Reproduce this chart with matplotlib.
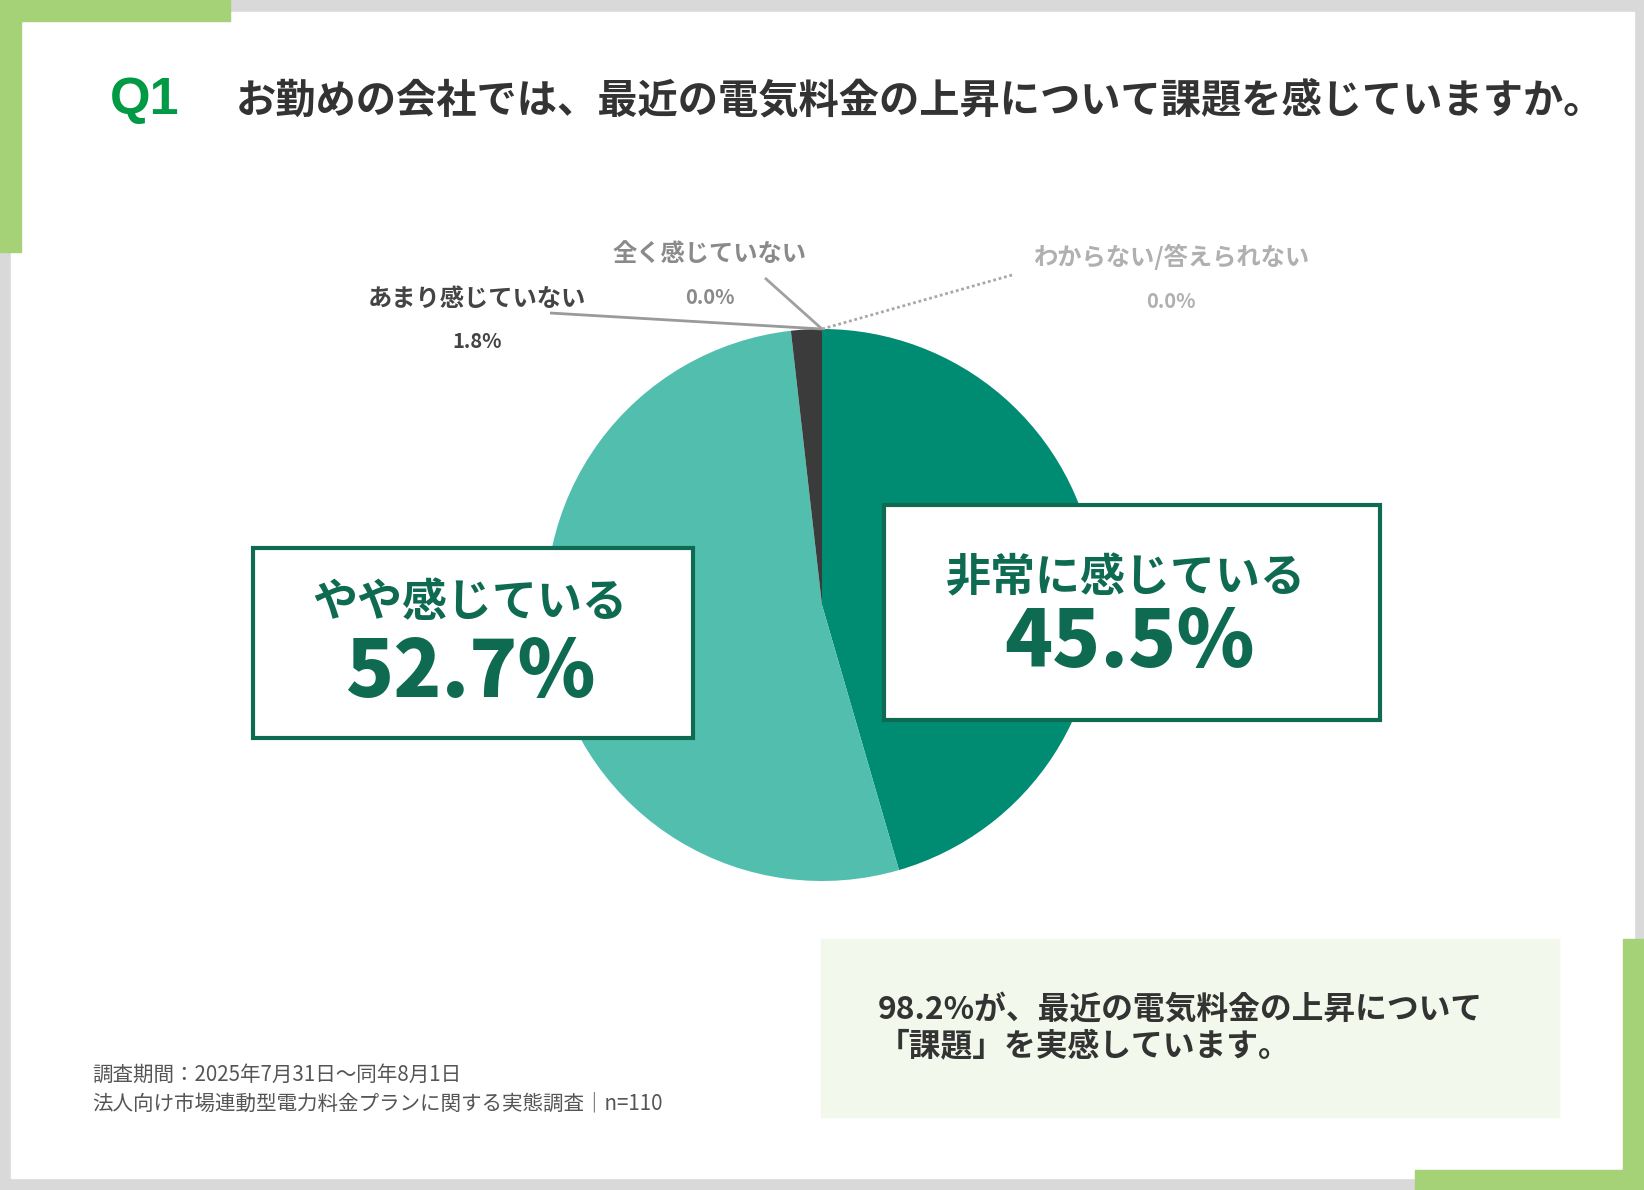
import matplotlib
matplotlib.use("Agg")
import matplotlib.pyplot as plt
from matplotlib.patches import Rectangle

W, H = 1644, 1190
JP = ['Noto Sans CJK JP', 'DejaVu Sans']

# survey data
categories = ['非常に感じている', 'やや感じている', 'あまり感じていない', '全く感じていない', 'わからない/答えられない']
values = [45.5, 52.7, 1.8, 0.0, 0.0]
slice_colors = ['#008b73', '#52bfae', '#3b3b3b', '#9a9a9a', '#cccccc']

title_q = 'Q1'
title = 'お勤めの会社では、最近の電気料金の上昇について課題を感じていますか。'
summary = ['98.2%が、最近の電気料金の上昇について', '「課題」を実感しています。']
notes = ['調査期間：2025年7月31日〜同年8月1日', '法人向け市場連動型電力料金プランに関する実態調査｜n=110']

GREEN = '#a5d177'
GRAY = '#d9d9d9'
BOXGREEN = '#0e6b51'

fig = plt.figure(figsize=(W / 100, H / 100), dpi=100)

# background layer, pixel coords with y down
bg = fig.add_axes([0, 0, 1, 1], zorder=0)
bg.set_xlim(0, W)
bg.set_ylim(H, 0)
bg.axis('off')
bg.add_patch(Rectangle((0, 0), W, H, color=GRAY))
bg.add_patch(Rectangle((11, 12), 1623, 1166, color='white'))
bg.add_patch(Rectangle((0, 0), 230, 21, color=GREEN))
bg.add_patch(Rectangle((0, 0), 21, 252, color=GREEN))
bg.add_patch(Rectangle((1623, 939), 21, 251, color=GREEN))
bg.add_patch(Rectangle((1415, 1170), 229, 20, color=GREEN))

# pie axes placed so that center=(822,605), r=276 in pixels
cx, cy, r = 822, 605, 276
pa = fig.add_axes([(cx - r) / W, (H - cy - r) / H, 2 * r / W, 2 * r / H], zorder=1)
pa.pie(values, colors=slice_colors, startangle=90, counterclock=False, radius=1,
       wedgeprops=dict(linewidth=0))
pa.set_xlim(-1, 1)
pa.set_ylim(-1, 1)
pa.axis('off')

# foreground layer
fg = fig.add_axes([0, 0, 1, 1], zorder=2)
fg.set_xlim(0, W)
fg.set_ylim(H, 0)
fg.axis('off')
fg.patch.set_alpha(0)

# title
fg.text(110, 101, title_q, fontsize=37.5, fontweight='bold', color='#009944',
        family=['Liberation Sans', 'DejaVu Sans'], ha='left', va='center')
fg.text(236, 101, title, fontsize=29.0, fontweight='bold', color='#333333',
        family=JP, ha='left', va='center')

# small labels with leader lines to the pie top
apex = (cx, cy - r)
small = [
    (2, (477, 299), (477, 342), (550, 313), '#444444', '#9a9a9a', '-'),
    (3, (710, 254), (710, 298), (765, 278), '#8a8a8a', '#a0a0a0', '-'),
    (4, (1171, 257), (1171, 301), (1012, 275), '#b0b0b0', '#a8a8a8', (0, (1, 1))),
]
for i, lpos, vpos, lstart, tcol, lcol, ls in small:
    fg.text(*lpos, categories[i], fontsize=17.5, fontweight='bold', color=tcol,
            family=JP, ha='center', va='center')
    fg.text(*vpos, f'{values[i]:.1f}%', fontsize=14.5, fontweight='bold', color=tcol,
            family=JP, ha='center', va='center')
    fg.plot([lstart[0], apex[0]], [lstart[1], apex[1]], color=lcol, lw=2, ls=ls,
            solid_capstyle='butt')

# callout boxes
boxes = [
    (0, (884, 505, 496, 215), (1126, 578), (1129, 643)),
    (1, (253, 548, 440, 190), (470, 603), (470, 674)),
]
for i, (x0, y0, bw, bh), lpos, vpos in boxes:
    fg.add_patch(Rectangle((x0, y0), bw, bh, facecolor='white', edgecolor=BOXGREEN, lw=3))
    fg.text(*lpos, categories[i], fontsize=32.4, fontweight='bold', color=BOXGREEN,
            family=JP, ha='center', va='center')
    fg.text(*vpos, f'{values[i]:.1f}%', fontsize=57, fontweight='heavy', color=BOXGREEN,
            family=JP, ha='center', va='center')

# summary box
fg.add_patch(Rectangle((821, 939), 738, 178, color='#f3f8ec'))
fg.text(878, 1010, summary[0], fontsize=22.9, fontweight='bold', color='#333333',
        family=JP, ha='left', va='center')
fg.text(878, 1047, summary[1], fontsize=22.9, fontweight='bold', color='#333333',
        family=JP, ha='left', va='center')

# footnote
fg.text(92, 1075, notes[0], fontsize=14.8, color='#555555', family=JP, ha='left', va='center')
fg.text(92, 1103, notes[1], fontsize=14.8, color='#555555', family=JP, ha='left', va='center')

fig.savefig('out.png', dpi=100)
